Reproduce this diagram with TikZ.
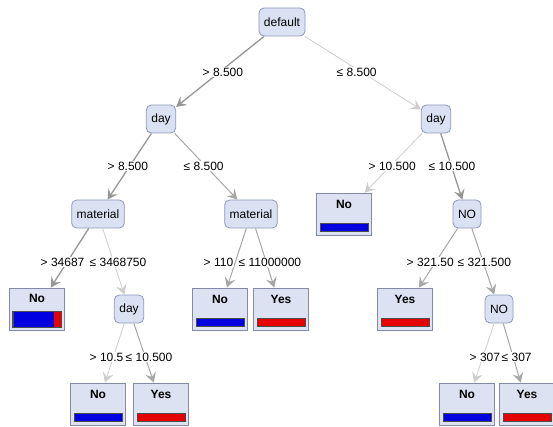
\documentclass[tikz,border=0pt]{standalone}
\usepackage{fontspec}
\setmainfont{Liberation Sans}
\usetikzlibrary{arrows.meta,calc}
\definecolor{nfill}{RGB}{218,225,242}
\definecolor{ndraw}{RGB}{140,152,185}
\definecolor{lfill}{RGB}{220,226,242}
\definecolor{ldraw}{RGB}{130,138,165}
\definecolor{barblue}{RGB}{0,0,225}
\definecolor{barred}{RGB}{230,0,0}
\definecolor{edark}{RGB}{150,150,150}
\definecolor{elight}{RGB}{205,205,205}
\tikzset{
  inner/.style={draw=ndraw,fill=nfill,rounded corners=5pt,minimum height=28pt,minimum width=28pt,inner xsep=5pt,font=\fontsize{12}{14}\selectfont,line width=0.8pt},
  leaf/.style={draw=ldraw,fill=lfill,minimum width=55pt,minimum height=42pt,line width=0.8pt},
  leaftext/.style={font=\fontsize{12}{14}\selectfont\bfseries,inner sep=0pt},
  barbox/.style={draw=black!70,fill=#1,minimum width=48pt,minimum height=8pt,inner sep=0pt,line width=0.6pt},
  lbl/.style={font=\fontsize{12}{14}\selectfont,inner sep=0.5pt,fill=white,anchor=west},
  edgedark/.style={draw=edark,line width=1.3pt,-{Stealth[length=10pt,width=11pt,inset=4pt]}},
  edgemid/.style={draw=edark!85,line width=1pt,-{Stealth[length=10pt,width=11pt,inset=4pt]}},
  edgelight/.style={draw=elight,line width=0.8pt,-{Stealth[length=10pt,width=11pt,inset=4pt]}},
}
\newcommand\leafnode[5]{%
  \node[leaf] (#1) at (#2,#3) {};
  \node[leaftext] (#1t) at ($(#1.north)+(0,12)$) {#4};
  \node[barbox=#5] (#1b) at ($(#1.south)+(0,-8)$) {};
}
\begin{document}
\begin{tikzpicture}[x=1pt,y=-1pt]
\useasboundingbox (0,0) rectangle (553,427);
% inner nodes
\node[inner] (def) at (282,22) {default};
\node[inner] (dayL) at (161,119) {day};
\node[inner] (dayR) at (436,119) {day};
\node[inner] (matL) at (98,214) {material};
\node[inner] (matM) at (251,214) {material};
\node[inner] (no1) at (467,214) {NO};
\node[inner] (day2) at (129,309) {day};
\node[inner] (no2) at (499,309) {NO};
% leaves
\leafnode{lNoR}{344}{214}{No}{barblue}
\node[leaf] (lNoL) at (37,309) {};
\node[leaftext] (lNoLt) at ($(lNoL.north)+(0,11)$) {No};
\node[draw=black!70,fill=barblue,minimum width=48pt,minimum height=16pt,inner sep=0pt,line width=0.6pt] (lNoLb) at ($(lNoL.south)+(0,-11)$) {};
\fill[barred] ($(lNoLb.north east)+(-7,0.4)$) rectangle ($(lNoLb.south east)+(-0.4,-0.4)$);
\draw[black!70,line width=0.6pt] (lNoLb.north west) rectangle (lNoLb.south east);
\leafnode{lNoM}{220}{309}{No}{barblue}
\leafnode{lYesM}{281}{309}{Yes}{barred}
\leafnode{lYesR}{405}{309}{Yes}{barred}
\leafnode{lNoB}{98}{404}{No}{barblue}
\leafnode{lYesB}{161}{404}{Yes}{barred}
\leafnode{lNoBR}{467}{404}{No}{barblue}
\leafnode{lYesBR}{527}{404}{Yes}{barred}
% edges
\draw[edgedark] (def) -- (dayL);
\draw[edgelight] (def) -- (dayR);
\draw[edgedark] (dayL) -- (matL);
\draw[edgemid] (dayL) -- (matM);
\draw[edgelight] (dayR) -- (lNoR);
\draw[edgedark] (dayR) -- (no1);
\draw[edgedark] (matL) -- (lNoL);
\draw[edgelight] (matL) -- (day2);
\draw[edgemid] (matM) -- (lNoM);
\draw[edgemid] (matM) -- (lYesM);
\draw[edgemid] (no1) -- (lYesR);
\draw[edgemid] (no1) -- (no2);
\draw[edgelight] (day2) -- (lNoB);
\draw[edgemid] (day2) -- (lYesB);
\draw[edgelight] (no2) -- (lNoBR);
\draw[edgemid] (no2) -- (lYesBR);
% labels
\node[lbl] (t1) at (202,72) {> 8.500};
\node[lbl] (t2) at (336,72) {≤ 8.500};
\node[lbl] (t3) at (107,166) {> 8.500};
\node[lbl] (t4) at (183,166) {≤ 8.500};
\node[lbl] (t5) at (368,166) {> 10.500};
\node[lbl] (t6) at (428,166) {≤ 10.500};
\node[lbl] (t7) at (40,262) {> 34687};
\node[lbl] (t8) at (89,262) {≤ 3468750};
\node[lbl] (t9) at (203,262) {> 110};
\node[lbl] (t10) at (238,262) {≤ 11000000};
\node[lbl] (t11) at (406,262) {> 321.50};
\node[lbl] (t12) at (457,262) {≤ 321.500};
\node[lbl] (t13) at (89,357) {> 10.5};
\node[lbl] (t14) at (125,357) {≤ 10.500};
\node[lbl] (t15) at (469,357) {> 307};
\node[lbl] (t16) at (501,357) {≤ 307};
\end{tikzpicture}
\end{document}
